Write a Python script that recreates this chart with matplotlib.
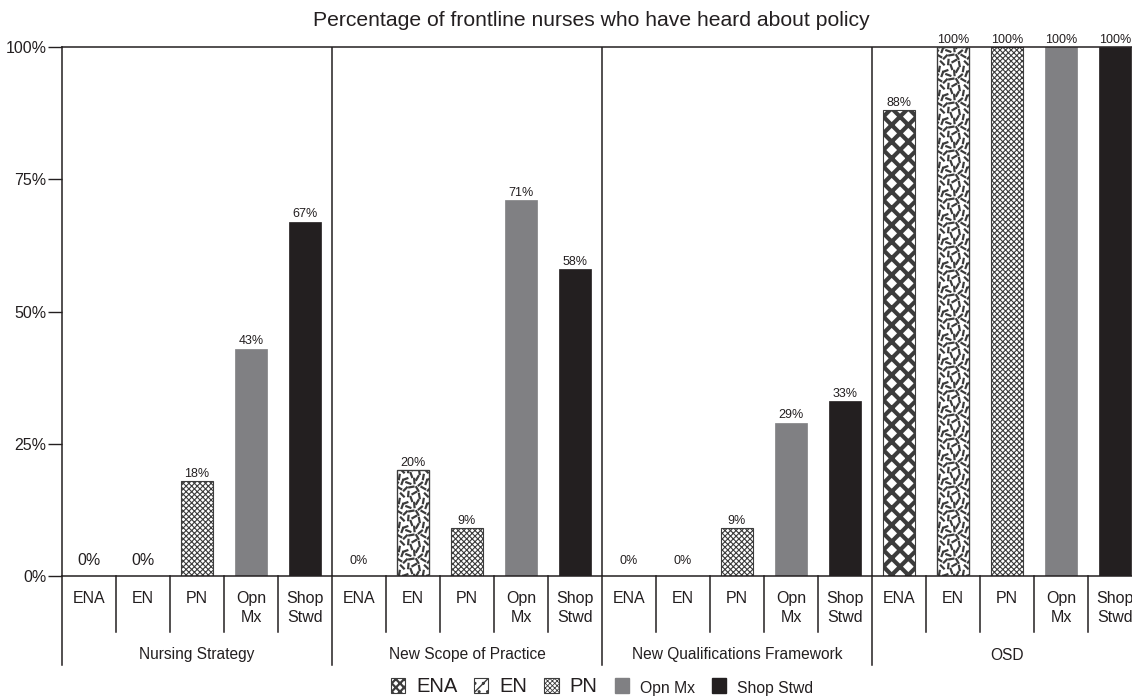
import matplotlib
matplotlib.use("Agg")
import matplotlib.pyplot as plt
import numpy as np
from matplotlib.patches import Rectangle
from matplotlib.collections import LineCollection
import matplotlib.transforms as mtransforms

plt.rcParams['font.family'] = ['Liberation Sans', 'DejaVu Sans']

# ---------------- data ----------------
title = "Percentage of frontline nurses who have heard about policy"
groups = ["Nursing Strategy", "New Scope of Practice", "New Qualifications Framework", "OSD"]
categories = ["ENA", "EN", "PN", "Opn\nMx", "Shop\nStwd"]
legend_labels = ["ENA", "EN", "PN", "Opn Mx", "Shop Stwd"]
values_nursing_strategy = [0, 0, 18, 43, 67]
values_new_scope = [0, 20, 9, 71, 58]
values_new_qualifications = [0, 0, 9, 29, 33]
values_osd = [88, 100, 100, 100, 100]
yticks = [0, 25, 50, 75, 100]
ytick_labels = ["0%", "25%", "50%", "75%", "100%"]

all_values = [values_nursing_strategy, values_new_scope, values_new_qualifications, values_osd]

# ---------------- style ----------------
INK = "#231f20"
GRAY = "#808083"
HATCH_INK = "#3c3c3c"
W, H = 1132, 700
fig = plt.figure(figsize=(W / 100, H / 100), dpi=100)
ax_l, ax_r, ax_b, ax_t = 62, 1142, 124, 653
ax = fig.add_axes([ax_l / W, ax_b / H, (ax_r - ax_l) / W, (ax_t - ax_b) / H])
n_cat = len(categories)
n_slots = n_cat * len(groups)
ax.set_xlim(-0.5, n_slots - 0.5)
ax.set_ylim(0, 100)
bar_w = 0.58

px_per_x = (ax_r - ax_l) / n_slots
px_per_y = (ax_t - ax_b) / 100.0


def draw_dashes(ax, x0, x1, h, patch):
    # decorative dashed texture (fixed tile, in pixel units)
    tile = [(2, 3, 80), (8, 1, 20), (14, 5, 110), (20, 2, 60), (5, 9, 135),
            (11, 10, 85), (17, 11, 30), (22, 8, 100), (2, 16, 150), (8, 15, 45),
            (14, 17, 10), (20, 15, 120), (5, 22, 70), (11, 21, 160), (17, 23, 95),
            (23, 20, 40)]
    T = 24.0
    L = 6.5
    segs = []
    wpx = (x1 - x0) * px_per_x
    hpx = h * px_per_y
    ny = int(hpx / T) + 2
    nx = int(wpx / T) + 2
    for iy in range(-1, ny):
        for ix in range(-1, nx):
            for (tx, ty, ang) in tile:
                cx = ix * T + tx
                cy = iy * T + ty
                dx = 0.5 * L * np.cos(np.radians(ang))
                dy = 0.5 * L * np.sin(np.radians(ang))
                segs.append([(x0 + (cx - dx) / px_per_x, (cy - dy) / px_per_y),
                             (x0 + (cx + dx) / px_per_x, (cy + dy) / px_per_y)])
    lc = LineCollection(segs, colors=HATCH_INK, linewidths=1.6, zorder=2.5)
    ax.add_collection(lc)
    lc.set_clip_path(patch)


for gi, vals in enumerate(all_values):
    for ci, v in enumerate(vals):
        x = gi * n_cat + ci
        if v > 0:
            if ci == 0:
                b = ax.bar(x, v, width=bar_w, color="white", edgecolor=HATCH_INK,
                           hatch="xx", linewidth=0.8, zorder=2)[0]
                try:
                    b.set_hatch_linewidth(3.0)
                except Exception:
                    pass
            elif ci == 1:
                b = ax.bar(x, v, width=bar_w, color="white", edgecolor=HATCH_INK,
                           linewidth=0.8, zorder=2)[0]
                draw_dashes(ax, x - bar_w / 2, x + bar_w / 2, v, b)
                ax.add_patch(Rectangle((x - bar_w / 2, 0), bar_w, v, fill=False,
                                       edgecolor=HATCH_INK, linewidth=0.9, zorder=3))
            elif ci == 2:
                b = ax.bar(x, v, width=bar_w, color="white", edgecolor=HATCH_INK,
                           hatch="xxxxxx", linewidth=0.8, zorder=2)[0]
                try:
                    b.set_hatch_linewidth(0.8)
                except Exception:
                    pass
            elif ci == 3:
                ax.bar(x, v, width=bar_w, color=GRAY, edgecolor=GRAY, linewidth=0.5, zorder=2)
            else:
                ax.bar(x, v, width=bar_w, color=INK, edgecolor=INK, linewidth=0.5, zorder=2)
        if v == 0:
            fs = 11.5 if gi == 0 else 9
            off = 5.5 if gi == 0 else 6.5
        else:
            fs = 9
            off = 0.8
        ax.annotate(f"{v}%", (x, v), xytext=(0, off), textcoords="offset points",
                    ha="center", va="bottom", fontsize=fs, color=INK,
                    annotation_clip=False)

# axes styling
for s in ["left", "right", "top", "bottom"]:
    ax.spines[s].set_color(INK)
    ax.spines[s].set_linewidth(1.1)
ax.set_yticks(yticks)
ax.set_yticklabels(ytick_labels, fontsize=11.5, color=INK)
ax.tick_params(axis="y", length=10, width=1.0, color=INK, pad=1)
ax.set_xticks([])

# group separator lines inside plot
for gi in range(1, len(groups)):
    ax.axvline(gi * n_cat - 0.5, color=INK, linewidth=1.1, zorder=1)

# category label area
trans = mtransforms.blended_transform_factory(ax.transData, ax.transAxes)
cat_bottom = (576 - 632) / 529.0
grp_bottom = (576 - 665) / 529.0
for k in range(n_slots + 1):
    xb = k - 0.5
    if k % n_cat == 0:
        ax.plot([xb, xb], [0, grp_bottom], transform=trans, color=INK,
                linewidth=1.1, clip_on=False)
    else:
        ax.plot([xb, xb], [0, cat_bottom], transform=trans, color=INK,
                linewidth=1.1, clip_on=False)

for gi, g in enumerate(groups):
    for ci, c in enumerate(categories):
        x = gi * n_cat + ci
        ax.text(x, (576 - 591) / 529.0, c, transform=trans, ha="center", va="top",
                fontsize=11.5, color=INK, linespacing=1.35)
    ax.text(gi * n_cat + (n_cat - 1) / 2, (576 - 655) / 529.0, g, transform=trans,
            ha="center", va="center", fontsize=11.2, color=INK)

fig.text(591 / W, 1 - 21 / H, title, ha="center", va="center", fontsize=15.2, color=INK)

# legend
handles = [
    Rectangle((0, 0), 1, 1, facecolor="white", edgecolor=HATCH_INK, hatch="xxxx", linewidth=0.8),
    Rectangle((0, 0), 1, 1, facecolor="white", edgecolor=HATCH_INK, hatch="//..", linewidth=0.8),
    Rectangle((0, 0), 1, 1, facecolor="white", edgecolor=HATCH_INK, hatch="xxxxxxx", linewidth=0.8),
    Rectangle((0, 0), 1, 1, facecolor=GRAY, edgecolor=GRAY),
    Rectangle((0, 0), 1, 1, facecolor=INK, edgecolor=INK),
]
leg = fig.legend(handles, legend_labels, loc="center", bbox_to_anchor=(602 / W, 13 / H),
                 ncol=5, frameon=False, handlelength=0.7, handleheight=0.7,
                 handletextpad=0.55, columnspacing=0.85, fontsize=14.5,
                 borderpad=0.1)
hlw = [1.6, 1.0, 0.6, None, None]
for h_, lw_ in zip(leg.legend_handles, hlw):
    if lw_ is not None:
        try:
            h_.set_hatch_linewidth(lw_)
        except Exception:
            pass
for i, t in enumerate(leg.get_texts()):
    t.set_color(INK)
    if i >= 3:
        t.set_fontsize(11.3)

fig.savefig("out.png", dpi=100)
